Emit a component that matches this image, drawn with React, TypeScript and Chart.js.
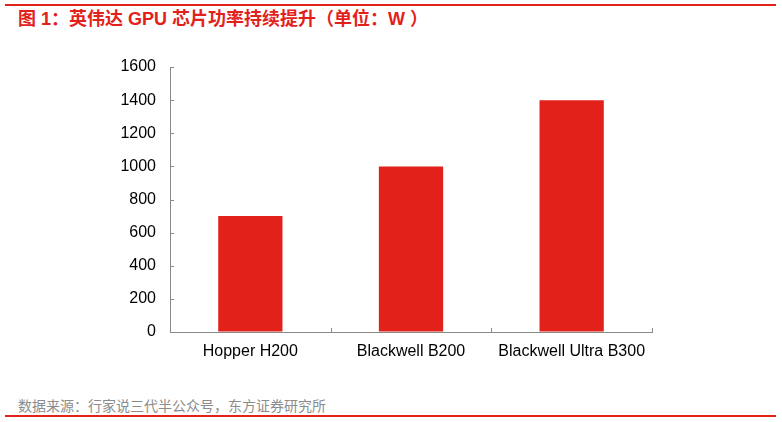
import { useEffect, useRef } from "react";
import Chart from "chart.js/auto";

// data
const categories = ["Hopper H200", "Blackwell B200", "Blackwell Ultra B300"];
const powerW = [700, 1000, 1400];
const yMin = 0;
const yMax = 1600;
const yStep = 200;

const RED = "rgb(227, 33, 27)";
const AXIS = "rgb(137, 137, 137)";

// short tick marks drawn inside the plot, like the original Excel chart
const innerTicks = {
  id: "innerTicks",
  afterDraw(chart: Chart) {
    const { ctx } = chart;
    const x = chart.scales.x;
    const y = chart.scales.y;
    ctx.save();
    ctx.strokeStyle = AXIS;
    ctx.lineWidth = 1;
    ctx.beginPath();
    y.ticks.forEach((t) => {
      const py = Math.round(y.getPixelForValue(t.value)) + 0.5;
      ctx.moveTo(x.left, py);
      ctx.lineTo(x.left + 4, py);
    });
    const n = categories.length;
    for (let i = 0; i <= n; i++) {
      let px: number;
      if (i === 0) px = x.left;
      else if (i === n) px = x.right;
      else px = (x.getPixelForValue(i - 1) + x.getPixelForValue(i)) / 2;
      px = Math.round(px) + 0.5;
      ctx.moveTo(px, y.bottom);
      ctx.lineTo(px, y.bottom - 4);
    }
    ctx.stroke();
    ctx.restore();
  },
};

function PowerChart() {
  const chartRef = useRef<HTMLCanvasElement>(null);
  const chartInstance = useRef<Chart | null>(null);

  useEffect(() => {
    if (!chartRef.current) return;
    if (chartInstance.current) chartInstance.current.destroy();
    const ctx = chartRef.current.getContext("2d");
    if (!ctx) return;

    const font = { family: "'Liberation Sans', Arial, sans-serif", size: 16 };

    chartInstance.current = new Chart(ctx, {
      type: "bar",
      data: {
        labels: categories,
        datasets: [
          {
            data: powerW,
            backgroundColor: RED,
            borderWidth: 0,
            barPercentage: 0.4,
            categoryPercentage: 1,
          },
        ],
      },
      options: {
        responsive: false,
        animation: false,
        layout: { padding: { top: 27, right: 130, left: 0, bottom: 0 } },
        plugins: {
          legend: { display: false },
          tooltip: { enabled: false },
        },
        scales: {
          x: {
            grid: { drawOnChartArea: false, drawTicks: false },
            border: { display: true, color: AXIS, width: 1 },
            ticks: { color: "#000", font, padding: 10, maxRotation: 0 },
            afterFit: (scale) => {
              scale.height = 48;
            },
          },
          y: {
            min: yMin,
            max: yMax,
            grid: { drawOnChartArea: false, drawTicks: false },
            border: { display: true, color: AXIS, width: 1 },
            ticks: {
              stepSize: yStep,
              color: "#000",
              font,
              padding: 14,
              callback: (v) => String(v),
            },
            afterFit: (scale) => {
              scale.width = 170;
            },
          },
        },
      },
      plugins: [innerTicks],
    });

    return () => {
      if (chartInstance.current) {
        chartInstance.current.destroy();
        chartInstance.current = null;
      }
    };
  }, []);

  return (
    <canvas
      ref={chartRef}
      width={782}
      height={340}
      style={{ position: "absolute", left: 0, top: 40, width: 782, height: 340 }}
    />
  );
}

export default function App() {
  return (
    <div
      style={{
        position: "absolute",
        left: 0,
        top: 0,
        width: 782,
        height: 422,
        background: "#fff",
        overflow: "hidden",
        fontFamily: "'Liberation Sans', 'Noto Sans CJK SC', sans-serif",
      }}
    >
      <div style={{ position: "absolute", left: 5, top: 4, width: 771, height: 2, background: RED }} />
      <div
        style={{
          position: "absolute",
          left: 18,
          top: 8,
          fontSize: 18,
          lineHeight: "22px",
          fontWeight: "bold",
          color: RED,
          whiteSpace: "nowrap",
        }}
      >
        图 1：英伟达 GPU 芯片功率持续提升（单位：W ）
      </div>
      <PowerChart />
      <div
        style={{
          position: "absolute",
          left: 18,
          top: 398,
          fontSize: 14,
          lineHeight: "16px",
          color: "rgb(140, 140, 140)",
          whiteSpace: "nowrap",
        }}
      >
        数据来源：行家说三代半公众号，东方证券研究所
      </div>
      <div style={{ position: "absolute", left: 5, top: 415, width: 771, height: 2, background: RED }} />
    </div>
  );
}
